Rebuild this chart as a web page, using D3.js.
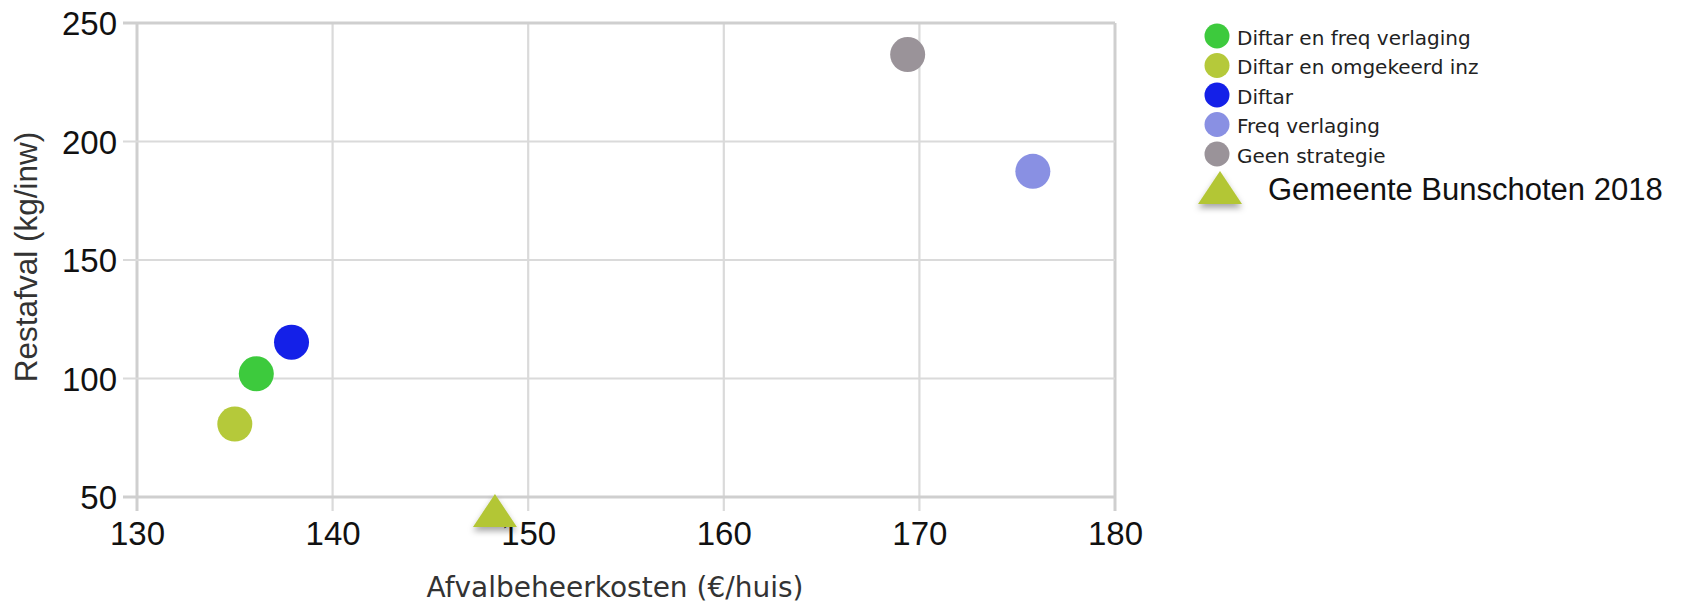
<!DOCTYPE html>
<html>
<head>
<meta charset="utf-8">
<script src="https://cdn.jsdelivr.net/npm/d3@7"></script>
<style>
  body { margin: 0; background: #fff; }
  svg { display: block; }
</style>
</head>
<body>
<div id="chart"></div>
<script>
// strategies (circles)
const strategies = ["Diftar en freq verlaging", "Diftar en omgekeerd inz", "Diftar", "Freq verlaging", "Geen strategie"];
const kosten = [136.1, 135.0, 137.9, 175.8, 169.4];
const restafval = [102, 80.8, 115.3, 187.4, 236.7];
const colors = ["#3dca3d", "#b5c93a", "#1420e8", "#8990e3", "#9a9399"];

// municipality (triangle)
const gemeenteLabel = "Gemeente Bunschoten 2018";
const gemeenteKosten = [148.3];
const gemeenteRestafval = [42];
const gemeenteColor = "#b3c636";

const xTicks = [130, 140, 150, 160, 170, 180];
const yTicks = [50, 100, 150, 200, 250];

const width = 1682, height = 603;
const margin = { left: 137, top: 23, right: 567, bottom: 106 };
const gridColor = "#dadada", borderColor = "#cfcfcf";

const svg = d3.select("#chart").append("svg")
  .attr("width", width)
  .attr("height", height);

const defs = svg.append("defs");
defs.append("filter")
  .attr("id", "shadow")
  .attr("x", "-50%").attr("y", "-50%")
  .attr("width", "200%").attr("height", "200%")
  .append("feDropShadow")
  .attr("dx", 0).attr("dy", 4)
  .attr("stdDeviation", 3)
  .attr("flood-color", "#000")
  .attr("flood-opacity", 0.35);

const x = d3.scaleLinear().domain([130, 180]).range([margin.left, width - margin.right]);
const y = d3.scaleLinear().domain([50, 250]).range([height - margin.bottom, margin.top]);

// grid lines, outer ones a bit heavier
const grid = svg.append("g");
grid.selectAll("line.v")
  .data(xTicks)
  .join("line")
  .attr("class", "v")
  .attr("x1", d => x(d)).attr("x2", d => x(d))
  .attr("y1", y(250)).attr("y2", y(50) + 14)
  .attr("stroke", (d, i) => (i === 0 || i === xTicks.length - 1) ? borderColor : gridColor)
  .attr("stroke-width", (d, i) => (i === 0 || i === xTicks.length - 1) ? 3 : 2.2);
grid.selectAll("line.h")
  .data(yTicks)
  .join("line")
  .attr("class", "h")
  .attr("x1", x(130) - 14).attr("x2", x(180))
  .attr("y1", d => y(d)).attr("y2", d => y(d))
  .attr("stroke", (d, i) => (i === 0 || i === yTicks.length - 1) ? borderColor : gridColor)
  .attr("stroke-width", (d, i) => (i === 0 || i === yTicks.length - 1) ? 3 : 2.2);

// tick labels
const xAxis = svg.append("g")
  .attr("transform", `translate(0,${y(50)})`)
  .call(d3.axisBottom(x).tickValues(xTicks).tickSize(0).tickPadding(48));
const yAxis = svg.append("g")
  .attr("transform", `translate(${x(130)},0)`)
  .call(d3.axisLeft(y).tickValues(yTicks).tickSize(0).tickPadding(20));
[xAxis, yAxis].forEach(a => {
  a.select(".domain").remove();
  a.selectAll("text")
    .attr("font-family", "'Liberation Sans', Arial, sans-serif")
    .attr("font-size", 33)
    .attr("fill", "#111");
});
yAxis.selectAll("text").attr("dy", "0.35em");
xAxis.selectAll("text").attr("dy", "0");

// axis titles
svg.append("text")
  .attr("x", 615)
  .attr("y", 597)
  .attr("text-anchor", "middle")
  .attr("font-family", "'DejaVu Sans', Verdana, sans-serif")
  .attr("font-size", 28)
  .attr("fill", "#333")
  .text("Afvalbeheerkosten (€/huis)");

svg.append("text")
  .attr("transform", "translate(37,257) rotate(-90)")
  .attr("text-anchor", "middle")
  .attr("font-family", "'Liberation Sans', Arial, sans-serif")
  .attr("font-size", 31.5)
  .attr("fill", "#333")
  .text("Restafval (kg/inw)");

// points
svg.append("g")
  .selectAll("circle")
  .data(strategies)
  .join("circle")
  .attr("cx", (d, i) => x(kosten[i]))
  .attr("cy", (d, i) => y(restafval[i]))
  .attr("r", 17.5)
  .attr("fill", (d, i) => colors[i]);

const tri = "M0,-22L22,11L-22,11Z";
svg.append("g")
  .selectAll("path")
  .data(gemeenteKosten)
  .join("path")
  .attr("d", tri)
  .attr("transform", (d, i) => `translate(${x(d)},${y(gemeenteRestafval[i])})`)
  .attr("fill", gemeenteColor)
  .attr("filter", "url(#shadow)");

// legend
const legend = svg.append("g").attr("transform", "translate(1217,36)");
const items = legend.selectAll("g")
  .data(strategies)
  .join("g")
  .attr("transform", (d, i) => `translate(0,${i * 29.5})`);
items.append("circle")
  .attr("r", 12.5)
  .attr("fill", (d, i) => colors[i]);
items.append("text")
  .attr("x", 20)
  .attr("y", 8.5)
  .attr("font-family", "'DejaVu Sans', Verdana, sans-serif")
  .attr("font-size", 20)
  .attr("fill", "#222")
  .text(d => d);

const gLeg = svg.append("g").attr("transform", "translate(1220,193)");
gLeg.append("path")
  .attr("d", tri)
  .attr("fill", gemeenteColor)
  .attr("filter", "url(#shadow)");
gLeg.append("text")
  .attr("x", 48)
  .attr("y", 7)
  .attr("font-family", "'Liberation Sans', Arial, sans-serif")
  .attr("font-size", 31)
  .attr("fill", "#111")
  .text(gemeenteLabel);
</script>
</body>
</html>
